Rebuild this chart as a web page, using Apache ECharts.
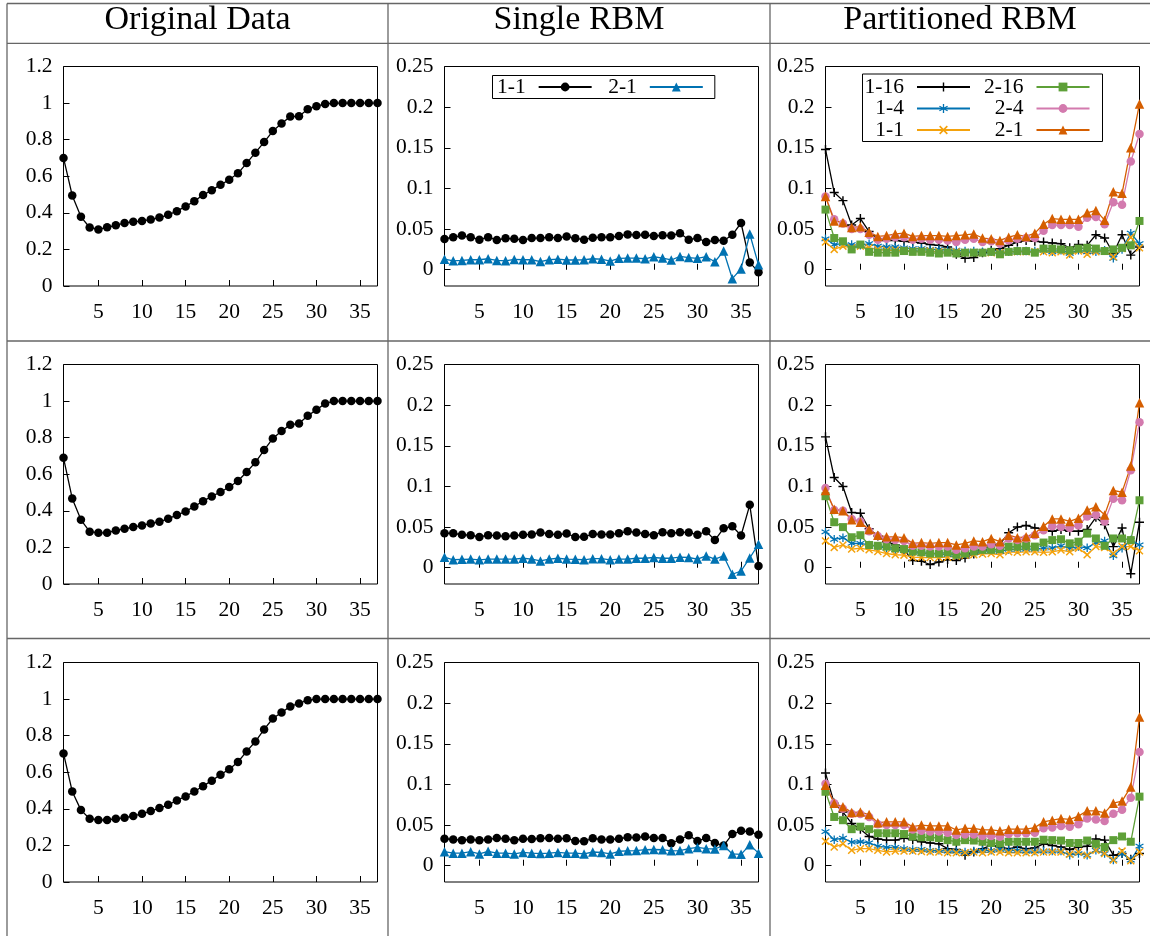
<!DOCTYPE html>
<html><head><meta charset="utf-8">
<script src="https://cdn.jsdelivr.net/npm/echarts@6/dist/echarts.min.js"></script>
<style>html,body{margin:0;padding:0;background:#fff}#c{width:1150px;height:936px}</style>
</head><body><div id="c"></div>
<script>
// ---------- data ----------
const steps = Array.from({length: 37}, (_, i) => i + 1);
const xTickValues = [5, 10, 15, 20, 25, 30, 35];
const errTickValues = [0, 0.05, 0.1, 0.15, 0.2, 0.25];
const headers = ['Original Data', 'Single RBM', 'Partitioned RBM'];
const singleLabels = ['1-1', '2-1'];
const partLabels = ['1-16', '1-4', '1-1', '2-16', '2-4', '2-1'];

const original1 = [0.70,0.495,0.378,0.320,0.309,0.321,0.332,0.345,0.351,0.356,0.363,0.374,0.389,0.409,0.435,0.464,0.497,0.524,0.553,0.581,0.616,0.672,0.729,0.787,0.847,0.888,0.926,0.928,0.966,0.983,0.995,1,1,1,1,1,1];
const original2 = [0.690,0.468,0.351,0.286,0.280,0.280,0.293,0.302,0.311,0.320,0.331,0.340,0.357,0.377,0.397,0.424,0.453,0.479,0.503,0.530,0.563,0.612,0.665,0.732,0.796,0.836,0.870,0.878,0.920,0.952,0.987,1,1,1,1,1,1];
const original3 = [0.703,0.495,0.393,0.346,0.339,0.339,0.346,0.351,0.361,0.373,0.388,0.404,0.422,0.446,0.468,0.495,0.524,0.554,0.586,0.617,0.656,0.714,0.768,0.834,0.894,0.927,0.960,0.976,0.994,1,1,1,1,1,1,1,1];

const single1_11 = [0.0378,0.040,0.042,0.040,0.037,0.040,0.0365,0.0386,0.038,0.0365,0.039,0.039,0.040,0.039,0.041,0.0386,0.037,0.0394,0.040,0.040,0.0415,0.0435,0.0427,0.043,0.0415,0.0423,0.042,0.045,0.037,0.039,0.034,0.0365,0.0357,0.043,0.0575,0.009,-0.003];
const single1_21 = [0.013,0.011,0.0115,0.0123,0.0123,0.0135,0.0115,0.011,0.0127,0.0123,0.0123,0.010,0.0123,0.013,0.012,0.012,0.0123,0.0135,0.013,0.0107,0.014,0.0144,0.0144,0.0135,0.016,0.0144,0.012,0.0164,0.015,0.014,0.016,0.0098,0.023,-0.011,0.001,0.044,0.006];
const single2_11 = [0.0424,0.0424,0.0406,0.040,0.0378,0.040,0.0396,0.0387,0.0396,0.0406,0.041,0.0434,0.0415,0.0406,0.042,0.0378,0.038,0.0415,0.041,0.041,0.0424,0.0448,0.0434,0.0415,0.040,0.0438,0.0424,0.0438,0.0434,0.0406,0.0448,0.034,0.0485,0.051,0.0396,0.0774,0.002];
const single2_21 = [0.013,0.0098,0.0103,0.0107,0.0098,0.0107,0.0107,0.0107,0.0107,0.0117,0.0107,0.0084,0.0107,0.0117,0.0107,0.0103,0.0098,0.0112,0.0112,0.0098,0.0107,0.0107,0.0117,0.0117,0.0126,0.0117,0.0117,0.013,0.0126,0.0107,0.0145,0.0107,0.0145,-0.008,-0.004,0.012,0.029];
const single3_11 = [0.0332,0.0323,0.0314,0.0323,0.0314,0.0323,0.034,0.0332,0.0314,0.0332,0.0328,0.0337,0.034,0.0332,0.0337,0.0305,0.030,0.0337,0.0323,0.0323,0.0332,0.035,0.0346,0.036,0.034,0.034,0.0276,0.0323,0.0375,0.0305,0.034,0.028,0.0248,0.0389,0.043,0.042,0.038];
const single3_21 = [0.0173,0.0155,0.0155,0.0173,0.0145,0.0178,0.0155,0.0155,0.0145,0.0164,0.0155,0.015,0.0155,0.0164,0.0155,0.0155,0.0145,0.0169,0.0164,0.0145,0.0178,0.0183,0.0187,0.0197,0.020,0.0197,0.0183,0.0187,0.021,0.0225,0.021,0.0206,0.025,0.0145,0.014,0.0257,0.0155];

const part1_116 = [0.148,0.095,0.085,0.055,0.063,0.047,0.038,0.036,0.036,0.035,0.034,0.033,0.031,0.030,0.028,0.019,0.014,0.015,0.021,0.024,0.026,0.030,0.034,0.036,0.035,0.034,0.033,0.032,0.027,0.031,0.030,0.043,0.039,0.020,0.043,0.018,0.028];
const part1_14 = [0.038,0.031,0.032,0.031,0.030,0.032,0.029,0.028,0.028,0.027,0.026,0.026,0.025,0.025,0.024,0.024,0.023,0.023,0.022,0.022,0.021,0.022,0.023,0.023,0.023,0.024,0.022,0.024,0.020,0.024,0.022,0.022,0.024,0.014,0.025,0.045,0.032];
const part1_11 = [0.034,0.025,0.029,0.027,0.029,0.027,0.025,0.024,0.024,0.024,0.023,0.023,0.023,0.022,0.022,0.022,0.021,0.021,0.021,0.021,0.021,0.022,0.022,0.022,0.022,0.022,0.021,0.022,0.018,0.023,0.019,0.022,0.023,0.016,0.026,0.040,0.027];
const part1_216 = [0.074,0.039,0.035,0.025,0.031,0.022,0.021,0.021,0.021,0.023,0.022,0.022,0.021,0.020,0.021,0.020,0.021,0.021,0.021,0.022,0.019,0.022,0.023,0.023,0.021,0.026,0.026,0.025,0.024,0.026,0.027,0.026,0.023,0.025,0.027,0.030,0.060];
const part1_24 = [0.090,0.062,0.057,0.050,0.050,0.043,0.037,0.038,0.040,0.040,0.037,0.038,0.037,0.037,0.036,0.034,0.037,0.038,0.034,0.035,0.032,0.036,0.038,0.039,0.039,0.048,0.055,0.055,0.055,0.053,0.064,0.065,0.056,0.083,0.080,0.133,0.167];
const part1_21 = [0.090,0.060,0.058,0.052,0.053,0.046,0.041,0.042,0.044,0.045,0.041,0.042,0.042,0.042,0.041,0.042,0.043,0.044,0.039,0.038,0.036,0.040,0.043,0.041,0.045,0.056,0.063,0.062,0.062,0.062,0.070,0.073,0.061,0.096,0.094,0.150,0.204];

const part2_116 = [0.161,0.111,0.100,0.068,0.067,0.048,0.039,0.032,0.028,0.022,0.009,0.008,0.004,0.007,0.010,0.009,0.012,0.017,0.022,0.028,0.029,0.043,0.050,0.052,0.049,0.047,0.045,0.047,0.045,0.045,0.047,0.062,0.053,0.026,0.049,-0.0075,0.056];
const part2_14 = [0.044,0.035,0.037,0.030,0.030,0.028,0.026,0.024,0.022,0.021,0.019,0.0175,0.017,0.017,0.016,0.016,0.017,0.019,0.020,0.021,0.020,0.0225,0.0225,0.023,0.023,0.024,0.0245,0.027,0.024,0.026,0.0245,0.031,0.033,0.0146,0.024,0.034,0.028];
const part2_11 = [0.033,0.025,0.028,0.023,0.024,0.022,0.020,0.0175,0.016,0.0155,0.013,0.0125,0.0125,0.0125,0.013,0.014,0.0155,0.016,0.017,0.0175,0.016,0.0196,0.019,0.0196,0.0196,0.019,0.0196,0.0217,0.0196,0.024,0.016,0.026,0.025,0.0175,0.026,0.026,0.021];
const part2_216 = [0.088,0.056,0.050,0.0375,0.040,0.028,0.027,0.026,0.024,0.023,0.020,0.019,0.0175,0.0175,0.019,0.016,0.0175,0.020,0.022,0.022,0.023,0.026,0.026,0.027,0.026,0.031,0.034,0.035,0.030,0.032,0.042,0.036,0.027,0.036,0.036,0.034,0.083];
const part2_24 = [0.098,0.071,0.070,0.060,0.057,0.045,0.039,0.035,0.034,0.033,0.027,0.027,0.026,0.026,0.026,0.022,0.024,0.026,0.026,0.029,0.027,0.036,0.034,0.036,0.040,0.046,0.051,0.050,0.049,0.052,0.063,0.065,0.057,0.085,0.083,0.120,0.179];
const part2_21 = [0.095,0.072,0.070,0.059,0.056,0.047,0.040,0.038,0.038,0.037,0.030,0.031,0.030,0.031,0.031,0.028,0.030,0.033,0.032,0.036,0.032,0.040,0.037,0.038,0.0425,0.051,0.060,0.060,0.057,0.061,0.071,0.075,0.065,0.095,0.093,0.125,0.203];

const part3_116 = [0.114,0.077,0.066,0.052,0.045,0.036,0.033,0.0315,0.0315,0.034,0.032,0.0295,0.028,0.027,0.021,0.020,0.013,0.017,0.021,0.025,0.023,0.021,0.023,0.021,0.022,0.027,0.025,0.023,0.020,0.023,0.024,0.033,0.0315,0.013,0.015,0.008,0.015];
const part3_14 = [0.042,0.032,0.034,0.029,0.0295,0.028,0.024,0.0225,0.0225,0.021,0.020,0.020,0.019,0.019,0.018,0.018,0.017,0.018,0.019,0.019,0.020,0.019,0.019,0.018,0.018,0.018,0.018,0.018,0.013,0.015,0.013,0.019,0.015,0.007,0.015,0.007,0.024];
const part3_11 = [0.030,0.023,0.027,0.019,0.021,0.021,0.019,0.017,0.018,0.018,0.018,0.0175,0.017,0.017,0.016,0.016,0.016,0.017,0.016,0.017,0.017,0.016,0.016,0.016,0.016,0.017,0.017,0.017,0.014,0.017,0.013,0.019,0.015,0.007,0.018,0.006,0.017];
const part3_216 = [0.091,0.060,0.056,0.045,0.048,0.045,0.040,0.040,0.040,0.039,0.036,0.035,0.035,0.034,0.0315,0.0295,0.0315,0.031,0.0295,0.028,0.0275,0.0295,0.0295,0.0295,0.0295,0.032,0.0315,0.031,0.028,0.028,0.031,0.027,0.023,0.0315,0.036,0.0295,0.085];
const part3_24 = [0.101,0.077,0.070,0.064,0.0635,0.060,0.051,0.050,0.050,0.050,0.0447,0.043,0.042,0.042,0.0405,0.0377,0.0385,0.0385,0.0365,0.0365,0.0357,0.039,0.040,0.040,0.0405,0.046,0.047,0.049,0.048,0.051,0.058,0.057,0.055,0.064,0.069,0.0836,0.140];
const part3_21 = [0.099,0.077,0.0725,0.0656,0.066,0.063,0.053,0.054,0.054,0.054,0.048,0.050,0.049,0.049,0.049,0.044,0.046,0.046,0.044,0.044,0.043,0.045,0.045,0.045,0.047,0.054,0.056,0.058,0.057,0.061,0.0676,0.0676,0.065,0.077,0.0795,0.097,0.183];

// ---------- styles ----------
const FONT = 'Liberation Serif';
const TICK_FS = 21.5;
const colLeft = [63.5, 444.5, 825.5];
const rowTop = [66.5, 364.5, 662.5];
const plotW = 314, plotH = 219.5;

const MK = {
  plus: 'path://M4.2,0H5.8V4.2H10V5.8H5.8V10H4.2V5.8H0V4.2H4.2Z',
  star: 'path://M4.3,10L4.3,0L5.7,0L5.7,10Z M8.98,8.106L0.32,3.106L1.02,1.894L9.68,6.894Z M0.32,6.894L8.98,1.894L9.68,3.106L1.02,8.106Z',
  cross: 'path://M8.006,9.066L0.934,1.994L1.994,0.934L9.066,8.006Z M0.934,8.006L8.006,0.934L9.066,1.994L1.994,9.066Z'
};
const singleStyle = [
  {color: '#000000', symbol: 'circle', size: 8.5},
  {color: '#0072b2', symbol: 'triangle', size: 9.5}
];
const partStyle = [
  {color: '#000000', symbol: MK.plus, size: 9},
  {color: '#0072b2', symbol: MK.star, size: 8.5},
  {color: '#f4a20c', symbol: MK.cross, size: 8},
  {color: '#5ea038', symbol: 'rect', size: 8},
  {color: '#d37aae', symbol: 'circle', size: 8.5},
  {color: '#d55e00', symbol: 'triangle', size: 9.5}
];

const originals = [original1, original2, original3];
const singles = [[single1_11, single1_21], [single2_11, single2_21], [single3_11, single3_21]];
const parts = [
  [part1_116, part1_14, part1_11, part1_216, part1_24, part1_21],
  [part2_116, part2_14, part2_11, part2_216, part2_24, part2_21],
  [part3_116, part3_14, part3_11, part3_216, part3_24, part3_21]
];

const grids = [], xAxes = [], yAxes = [], series = [];
for (let r = 0; r < 3; r++) {
  for (let c = 0; c < 3; c++) {
    const idx = r * 3 + c;
    grids.push({left: colLeft[c], top: rowTop[r], width: plotW, height: plotH,
      show: true, borderColor: '#000', borderWidth: 1, backgroundColor: 'transparent',
      outerBoundsMode: 'none', containLabel: false});
    xAxes.push({gridIndex: idx, type: 'value', min: 1, max: 37,
      axisLine: {show: false},
      axisTick: {show: true, inside: true, length: 6, customValues: xTickValues, lineStyle: {color: '#000', width: 1}},
      axisLabel: {customValues: xTickValues, margin: 15, color: '#000', fontFamily: FONT, fontSize: TICK_FS},
      splitLine: {show: false}});
    if (c === 0) {
      yAxes.push({gridIndex: idx, type: 'value', min: 0, max: 1.2, interval: 0.2,
        axisLine: {show: false},
        axisTick: {show: true, inside: true, length: 6, lineStyle: {color: '#000', width: 1}},
        axisLabel: {margin: 11, color: '#000', fontFamily: FONT, fontSize: TICK_FS},
        splitLine: {show: false}});
    } else {
      yAxes.push({gridIndex: idx, type: 'value', min: -0.02, max: 0.25,
        axisLine: {show: false},
        axisTick: {show: true, inside: true, length: 6, customValues: errTickValues, lineStyle: {color: '#000', width: 1}},
        axisLabel: {customValues: errTickValues, margin: 11, color: '#000', fontFamily: FONT, fontSize: TICK_FS},
        splitLine: {show: false}});
    }
  }
  const mk = (name, vals, st, axisIdx) => ({
    name, type: 'line', xAxisIndex: axisIdx, yAxisIndex: axisIdx,
    data: steps.map((x, i) => [x, vals[i]]),
    symbol: st.symbol, symbolSize: st.size, showSymbol: true,
    itemStyle: {color: st.color},
    lineStyle: {color: st.color, width: 1.3},
    silent: true, animation: false
  });
  series.push(mk('o' + r + '#orig', originals[r], {color: '#000', symbol: 'circle', size: 8.5}, r * 3));
  singles[r].forEach((vals, k) => series.push(mk('s' + r + '#' + singleLabels[k], vals, singleStyle[k], r * 3 + 1)));
  parts[r].forEach((vals, k) => series.push(mk('p' + r + '#' + partLabels[k], vals, partStyle[k], r * 3 + 2)));
}

const legendText = {
  fontFamily: FONT, fontSize: TICK_FS, color: '#000',
  rich: {t: {fontFamily: FONT, fontSize: TICK_FS, color: '#000', padding: [0, 8, 0, 0]}}
};
const fmt = n => '{t|' + n.split('#')[1] + '}';
const legends = [{
  data: singleLabels.map(l => 's0#' + l), left: 492.5, top: 75.5,
  orient: 'horizontal', align: 'right', itemWidth: 53, itemHeight: 11, itemGap: 15.5,
  padding: [0.5, 11, 0.5, 4.5], borderColor: '#000', borderWidth: 1, backgroundColor: '#fff',
  selectedMode: false, formatter: fmt, textStyle: legendText
}];
const partLegendRight = [179, 59.5];
const partLegendCenter = [87, 108.5, 130];
partLabels.forEach((l, k) => {
  const col = k < 3 ? 0 : 1, row = k % 3;
  legends.push({
    data: ['p0#' + l], right: partLegendRight[col], top: partLegendCenter[row] - 11,
    align: 'right', itemWidth: 53, itemHeight: 11, padding: 0,
    selectedMode: false, formatter: fmt, textStyle: legendText
  });
});

const lineStyle = {stroke: '#666', lineWidth: 1.3};
const graphics = [
  {type: 'line', shape: {x1: 7, y1: 3.5, x2: 1150, y2: 3.5}, style: lineStyle},
  {type: 'line', shape: {x1: 7, y1: 43.3, x2: 1150, y2: 43.3}, style: lineStyle},
  {type: 'line', shape: {x1: 7, y1: 341, x2: 1150, y2: 341}, style: lineStyle},
  {type: 'line', shape: {x1: 7, y1: 638.5, x2: 1150, y2: 638.5}, style: lineStyle},
  {type: 'line', shape: {x1: 7, y1: 3.5, x2: 7, y2: 936}, style: lineStyle},
  {type: 'line', shape: {x1: 388, y1: 3.5, x2: 388, y2: 936}, style: lineStyle},
  {type: 'line', shape: {x1: 770, y1: 3.5, x2: 770, y2: 936}, style: lineStyle},
  {type: 'rect', z: 3, shape: {x: 862.5, y: 74, width: 240, height: 67.5},
    style: {fill: '#fff', stroke: '#000', lineWidth: 1}}
];
const headerX = [197.5, 579, 960];
headers.forEach((h, i) => graphics.push({
  type: 'text', x: headerX[i], y: 20,
  style: {text: h, fontFamily: FONT, fontSize: 34, fill: '#000', align: 'center', verticalAlign: 'middle'}
}));

const chart = echarts.init(document.getElementById('c'), null, {renderer: 'canvas'});
chart.setOption({
  animation: false,
  backgroundColor: '#fff',
  grid: grids, xAxis: xAxes, yAxis: yAxes, series,
  legend: legends,
  graphic: graphics
});
</script></body></html>
